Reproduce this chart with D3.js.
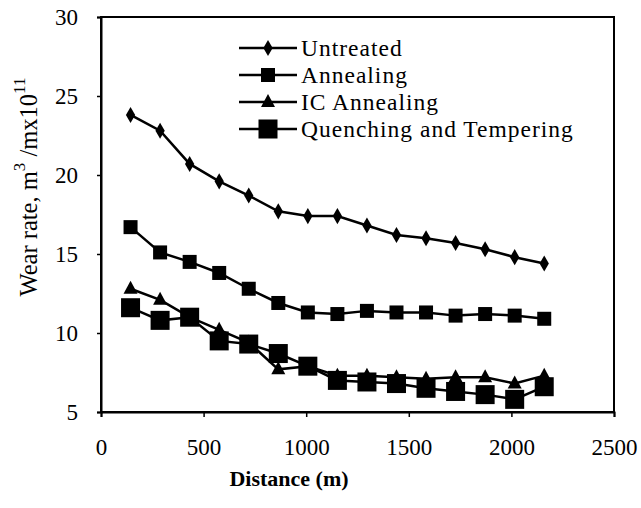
<!DOCTYPE html>
<html><head><meta charset="utf-8">
<script src="https://cdn.jsdelivr.net/npm/d3@7"></script>
<style>body{margin:0;background:#fff}svg{display:block}</style>
</head><body>
<svg id="c" width="641" height="508"></svg>
<script>
const distance = [144, 288, 432, 576, 720, 864, 1008, 1152, 1296, 1440, 1584, 1728, 1872, 2016, 2160];
const untreated = [23.8, 22.8, 20.7, 19.6, 18.7, 17.7, 17.4, 17.4, 16.8, 16.2, 16.0, 15.7, 15.3, 14.8, 14.4];
const annealing = [16.7, 15.1, 14.5, 13.8, 12.8, 11.9, 11.3, 11.2, 11.4, 11.3, 11.3, 11.1, 11.2, 11.1, 10.9];
const icAnnealing = [12.8, 12.1, 11.0, 10.2, 9.4, 7.7, 7.9, 7.3, 7.3, 7.2, 7.1, 7.2, 7.2, 6.8, 7.3];
const quenching = [11.6, 10.8, 11.0, 9.5, 9.3, 8.7, 7.9, 7.0, 6.9, 6.8, 6.5, 6.3, 6.1, 5.8, 6.6];
const seriesNames = ["Untreated", "Annealing", "IC Annealing", "Quenching and Tempering"];
const xTicks = [0, 500, 1000, 1500, 2000, 2500];
const yTicks = [5, 10, 15, 20, 25, 30];

const svg = d3.select("#c");
const L = 101, R = 614, T = 17, B = 412;
const x = d3.scaleLinear().domain([0, 2500]).range([L, R]);
const y = d3.scaleLinear().domain([5, 30]).range([B, T]);
const font = "'Liberation Serif','Times New Roman',serif";

// frame
svg.append("rect").attr("x", L).attr("y", T).attr("width", R - L).attr("height", B - T)
  .attr("fill", "none").attr("stroke", "#000").attr("stroke-width", 2);

const xa = svg.append("g").attr("transform", `translate(0,${B})`)
  .call(d3.axisBottom(x).tickValues(xTicks).tickSize(5).tickPadding(22).tickFormat(d3.format("d")));
const ya = svg.append("g").attr("transform", `translate(${L},0)`)
  .call(d3.axisLeft(y).tickValues(yTicks).tickSize(4).tickPadding(19).tickFormat(d3.format("d")));
[xa, ya].forEach(a => {
  a.select(".domain").attr("stroke", "#000").attr("stroke-width", 2);
  a.selectAll("line").attr("stroke", "#000").attr("stroke-width", 1.5);
  a.selectAll("text").attr("font-family", font).attr("font-size", 23).attr("fill", "#000");
});

const data = [untreated, annealing, icAnnealing, quenching];
const line = d3.line().x((d, i) => x(distance[i])).y(d => y(d));

function marker(g, kind, cx, cy) {
  if (kind === 0) {
    g.append("path").attr("d", d3.symbol(d3.symbolDiamond, 75)()).attr("transform", `translate(${cx},${cy})`).attr("fill", "#000");
  } else if (kind === 1) {
    g.append("rect").attr("x", cx - 7).attr("y", cy - 7).attr("width", 14).attr("height", 14).attr("fill", "#000");
  } else if (kind === 2) {
    g.append("path").attr("d", "M0,-8L7,5L-7,5Z").attr("transform", `translate(${cx},${cy})`).attr("fill", "#000");
  } else {
    g.append("rect").attr("x", cx - 9.5).attr("y", cy - 9.5).attr("width", 19).attr("height", 19).attr("fill", "#000");
  }
}

data.forEach((s, k) => {
  const g = svg.append("g");
  g.append("path").attr("d", line(s)).attr("fill", "none").attr("stroke", "#000").attr("stroke-width", 2.5);
  s.forEach((v, i) => marker(g, k, x(distance[i]), y(v)));
});

// legend
const lg = svg.append("g");
seriesNames.forEach((n, k) => {
  const yy = 48 + k * 27;
  lg.append("line").attr("x1", 239).attr("x2", 297).attr("y1", yy).attr("y2", yy).attr("stroke", "#000").attr("stroke-width", 2.5);
  marker(lg, k, 268, yy);
  lg.append("text").attr("x", 301).attr("y", yy).attr("dy", "0.35em").attr("font-family", font)
    .attr("font-size", 23.5).attr("letter-spacing", 1).text(n);
});

// axis titles
svg.append("text").attr("x", 289).attr("y", 486).attr("text-anchor", "middle")
  .attr("font-family", font).attr("font-size", 22).attr("font-weight", "bold").text("Distance (m)");
const yt = svg.append("text").attr("transform", "translate(37,187) rotate(-90)").attr("text-anchor", "middle")
  .attr("font-family", font).attr("font-size", 24.5);
yt.append("tspan").text("Wear rate, m");
yt.append("tspan").attr("dy", -12).attr("font-size", 17).text("3");
yt.append("tspan").attr("dy", 12).text(" /mx10");
yt.append("tspan").attr("dy", -12).attr("font-size", 17).text("11");
</script>
</body></html>
